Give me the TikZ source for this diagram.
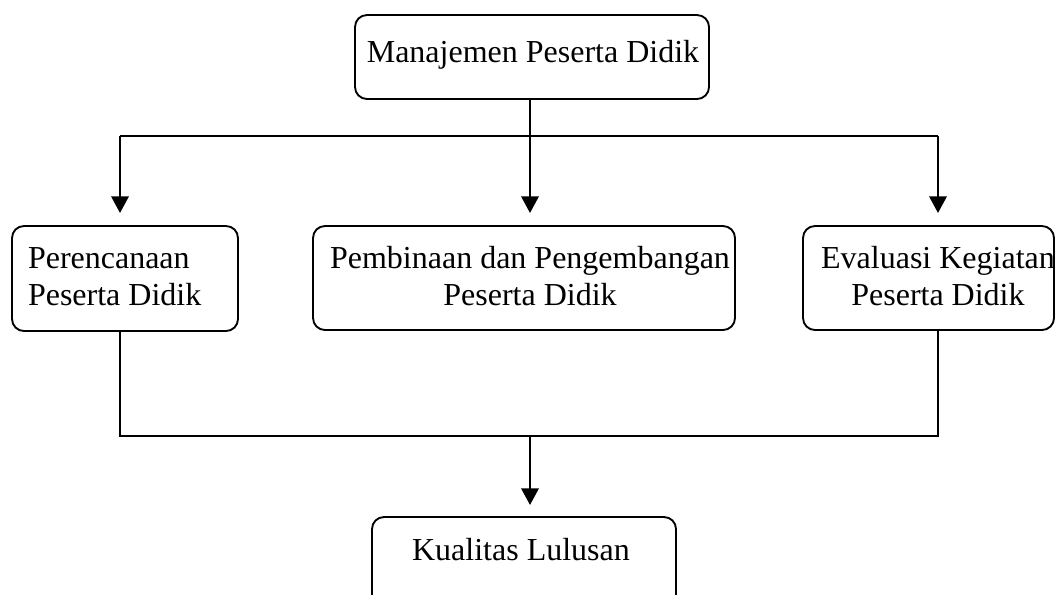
\documentclass[tikz,border=0pt]{standalone}
\usepackage{fontspec}
\setmainfont{Liberation Serif}
\usetikzlibrary{arrows.meta}
\tikzset{
  box/.style={draw, line width=1.4pt, rounded corners=9pt, inner sep=0pt, outer sep=0pt},
  lbl/.style={font=\fontsize{24}{27.75}\selectfont, inner sep=0pt, outer sep=0pt},
  wire/.style={line width=1.8pt},
  arr/.style={wire, -{Triangle[length=12.5pt,width=13pt]}}
}
\begin{document}
\begin{tikzpicture}[x=0.75pt,y=-0.75pt]
\useasboundingbox (0,0) rectangle (1056,594);
\clip (0,0) rectangle (1056,594);
% boxes
\node[box, minimum width=265.5pt, minimum height=63pt] (top) at (532,57) {};
\node[box, minimum width=169.5pt, minimum height=78.75pt] (left) at (125,278.5) {};
\node[box, minimum width=316.5pt, minimum height=78pt] (mid) at (524,278) {};
\node[box, minimum width=188.25pt, minimum height=78pt] (right) at (928.5,278) {};
\node[box, minimum width=228pt, minimum height=77.25pt] (kual) at (524,568.5) {};
% texts
\node[lbl, anchor=base] (ttop) at (533,62) {Manajemen Peserta Didik};
\node[lbl, anchor=base west, align=left] (tleft) at (28,305) {Perencanaan\\Peserta Didik};
\node[lbl, anchor=base, align=center] (tmid) at (530,305) {Pembinaan dan Pengembangan\\Peserta Didik};
\node[lbl, anchor=base, align=center] (tright) at (938,305) {Evaluasi Kegiatan\\Peserta Didik};
\node[lbl, anchor=base] (tkual) at (521,560) {Kualitas Lulusan};
% connectors
\coordinate (bL) at (120,136);
\coordinate (bM) at (530,136);
\coordinate (bR) at (938,136);
\coordinate (jL) at (120,436);
\coordinate (jM) at (530,436);
\coordinate (jR) at (938,436);
\draw[wire] (bL) -- (bR);
\draw[arr, shorten >=9.75pt] (bM |- top.south) -- (bM |- mid.north);
\draw[arr, shorten >=9.75pt] (bL) -- (bL |- left.north);
\draw[arr, shorten >=9.75pt] (bR) -- (bR |- right.north);
\draw[wire] (jL |- left.south) -- (jL) -- (jR) -- (jR |- right.south);
\draw[arr, shorten >=9pt] (jM) -- (jM |- kual.north);
\end{tikzpicture}
\end{document}
